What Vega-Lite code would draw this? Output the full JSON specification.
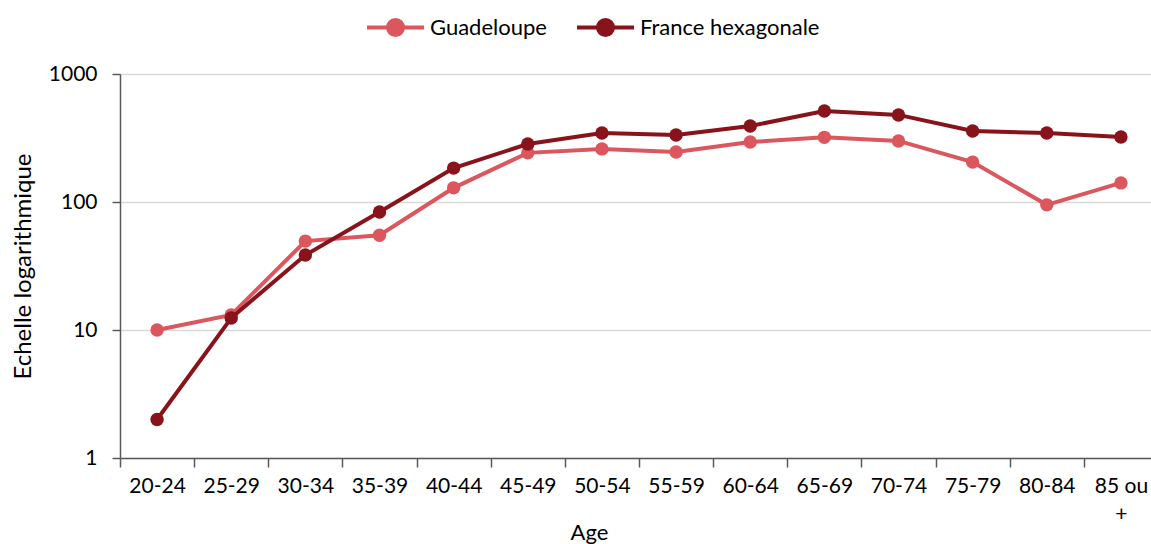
{
  "$schema": "https://vega.github.io/schema/vega-lite/v6.json",
  "autosize": "none",
  "width": 1038,
  "height": 384,
  "padding": {"left": 120, "top": 74, "right": 0, "bottom": 86},
  "background": "white",
  "config": {
    "view": {"stroke": null},
    "font": "Lato",
    "axis": {"labelFont": "Lato", "titleFont": "Lato", "labelColor": "#000000", "titleColor": "#000000", "titleFontWeight": "normal", "labelFontSize": 21, "titleFontSize": 22}
  },
  "data": {
    "values": [
      {"age": "20-24", "serie": "Guadeloupe", "valeur": 10},
      {"age": "25-29", "serie": "Guadeloupe", "valeur": 13.1},
      {"age": "30-34", "serie": "Guadeloupe", "valeur": 49.5},
      {"age": "35-39", "serie": "Guadeloupe", "valeur": 55},
      {"age": "40-44", "serie": "Guadeloupe", "valeur": 129},
      {"age": "45-49", "serie": "Guadeloupe", "valeur": 242},
      {"age": "50-54", "serie": "Guadeloupe", "valeur": 260},
      {"age": "55-59", "serie": "Guadeloupe", "valeur": 246},
      {"age": "60-64", "serie": "Guadeloupe", "valeur": 294},
      {"age": "65-69", "serie": "Guadeloupe", "valeur": 320},
      {"age": "70-74", "serie": "Guadeloupe", "valeur": 300},
      {"age": "75-79", "serie": "Guadeloupe", "valeur": 205},
      {"age": "80-84", "serie": "Guadeloupe", "valeur": 95},
      {"age": "85 ou +", "serie": "Guadeloupe", "valeur": 141},
      {"age": "20-24", "serie": "France hexagonale", "valeur": 2},
      {"age": "25-29", "serie": "France hexagonale", "valeur": 12.4},
      {"age": "30-34", "serie": "France hexagonale", "valeur": 38.5},
      {"age": "35-39", "serie": "France hexagonale", "valeur": 83.6},
      {"age": "40-44", "serie": "France hexagonale", "valeur": 184},
      {"age": "45-49", "serie": "France hexagonale", "valeur": 284},
      {"age": "50-54", "serie": "France hexagonale", "valeur": 346},
      {"age": "55-59", "serie": "France hexagonale", "valeur": 334},
      {"age": "60-64", "serie": "France hexagonale", "valeur": 392},
      {"age": "65-69", "serie": "France hexagonale", "valeur": 514},
      {"age": "70-74", "serie": "France hexagonale", "valeur": 479},
      {"age": "75-79", "serie": "France hexagonale", "valeur": 359},
      {"age": "80-84", "serie": "France hexagonale", "valeur": 346},
      {"age": "85 ou +", "serie": "France hexagonale", "valeur": 322}
    ]
  },
  "encoding": {
    "x": {
      "field": "age",
      "type": "ordinal",
      "sort": ["20-24","25-29","30-34","35-39","40-44","45-49","50-54","55-59","60-64","65-69","70-74","75-79","80-84","85 ou +"],
      "scale": {"type": "band", "paddingInner": 0, "paddingOuter": 0},
      "axis": {
        "title": "Age",
        "titleX": 469,
        "titleY": 81,
        "titleAlign": "center",
        "titleBaseline": "alphabetic",
        "titleAnchor": null,
        "labelAngle": 0,
        "labelPadding": 8,
        "labelLineHeight": 28,
        "labelExpr": "datum.label == '85 ou +' ? ['85 ou', '+'] : datum.label",
        "tickBand": "extent",
        "tickSize": 9,
        "tickColor": "#595959",
        "tickWidth": 1.5,
        "domainColor": "#595959",
        "domainWidth": 1.5,
        "grid": false
      }
    },
    "y": {
      "field": "valeur",
      "type": "quantitative",
      "scale": {"type": "log", "domain": [1, 1000], "nice": false},
      "axis": {
        "title": "Echelle logarithmique",
        "titleFontSize": 24,
        "values": [1, 10, 100, 1000],
        "format": "d",
        "tickSize": 8,
        "tickColor": "#595959",
        "tickWidth": 1.5,
        "domainColor": "#595959",
        "domainWidth": 1.5,
        "labelPadding": 15,
        "titlePadding": 13,
        "grid": true,
        "gridColor": "#d9d9d9",
        "gridWidth": 1.5
      }
    },
    "color": {
      "field": "serie",
      "type": "nominal",
      "scale": {"domain": ["Guadeloupe", "France hexagonale"], "range": ["#dc565e", "#88131a"]},
      "legend": {
        "title": null,
        "orient": "none",
        "direction": "horizontal",
        "legendX": 245,
        "legendY": -77,
        "symbolType": "M-1,0H1M0.263,0A0.263,0.263,0,1,1,-0.263,0A0.263,0.263,0,1,1,0.263,0Z",
        "symbolSize": 3249,
        "symbolStrokeWidth": 4,
        "labelFont": "Lato",
        "labelFontSize": 22,
        "labelLimit": 400,
        "labelColor": "#000000",
        "labelOffset": 4,
        "columnPadding": 22,
        "encode": {
          "symbols": {"update": {"fill": {"scale": "color", "field": "value"}, "stroke": {"scale": "color", "field": "value"}, "strokeWidth": {"value": 4}, "opacity": {"value": 1}}}
        }
      }
    }
  },
  "layer": [
    {
      "transform": [{"filter": "datum.serie == 'Guadeloupe'"}],
      "mark": {"type": "line", "strokeWidth": 4, "point": {"filled": true, "size": 180, "opacity": 1}}
    },
    {
      "transform": [{"filter": "datum.serie == 'France hexagonale'"}],
      "mark": {"type": "line", "strokeWidth": 4, "point": {"filled": true, "size": 180, "opacity": 1}}
    }
  ]
}
